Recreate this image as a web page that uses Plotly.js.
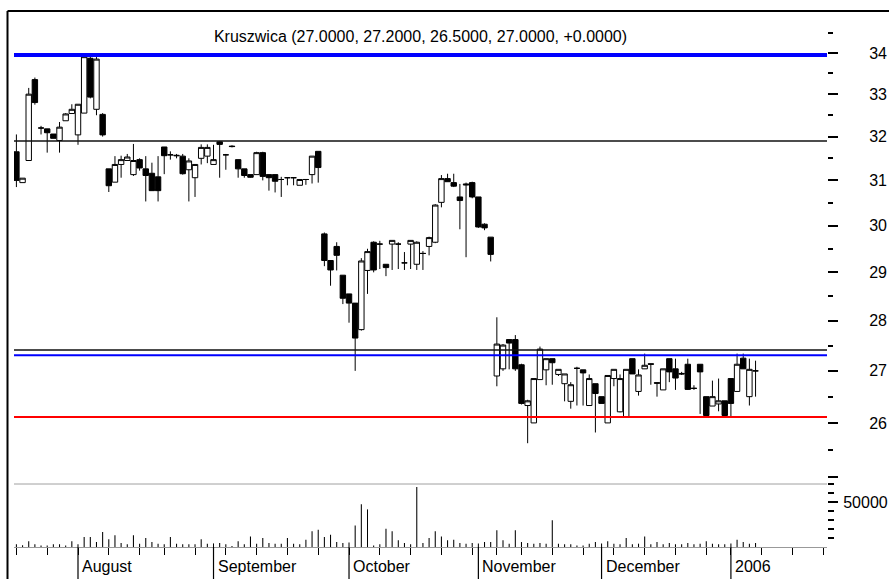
<!DOCTYPE html>
<html>
<head>
<meta charset="utf-8">
<script src="https://cdn.plot.ly/plotly-3.0.1.min.js"></script>
<style>html,body{margin:0;padding:0;background:#fff;}#chart{width:889px;height:579px;}</style>
</head>
<body>
<div id="chart"></div>
<script>
// Trading-day index 0 = 18 Jul 2005 ... 120 = 6 Jan 2006
const openP  = [31.65,30.95,31.45,33.35,32.2,32.18,32.06,31.91,32.37,32.54,32.04,32.55,33.87,32.64,32.52,
  31.26,30.96,31.36,31.45,31.13,31.47,31.26,31.16,31.08,31.76,31.58,31.57,31.55,31.24,31.06,
  31.5,31.55,31.36,31.88,31.58,31.78,31.47,31.26,31.13,31.13,31.63,31.13,31.13,31.02,31.06,
  31.06,30.89,31.02,31.13,31.66,29.82,29.25,29.55,28.94,28.55,28.36,27.82,29.04,29.64,29.6,
  29.17,29.6,29.6,29.2,29.6,29.17,29.4,29.55,29.64,30.51,31.04,30.95,30.63,30.92,30.95,
  30.63,30.03,29.75,26.9,27.04,27.62,27.62,27.12,26.33,26.0,26.83,27.02,27.24,26.93,26.75,
  26.41,27.05,27.02,26.33,26.75,26.5,26.0,26.85,26.21,26.11,27.24,26.6,27.04,27.14,26.77,
  26.63,27.24,27.04,26.95,27.13,26.66,27.13,26.5,26.32,26.36,26.42,26.85,26.6,27.25,26.5,27.0];
const highP  = [32.05,31.05,33.15,33.4,32.25,32.18,32.06,32.34,32.55,32.76,32.76,33.95,33.95,33.9,32.55,
  31.26,31.55,31.56,31.6,31.83,31.5,31.55,31.4,31.55,31.76,31.66,31.6,31.6,31.5,31.36,
  31.82,31.82,31.81,31.9,31.6,31.8,31.47,31.26,31.13,31.65,31.65,31.13,31.13,31.08,31.06,
  31.06,31.02,31.02,31.55,31.66,29.85,29.25,29.64,28.94,28.55,28.36,29.3,29.5,29.66,29.67,
  29.17,29.68,29.64,29.43,29.68,29.66,29.45,29.76,30.47,31.12,31.15,31.15,30.92,30.95,30.97,
  30.63,30.05,29.75,28.07,27.53,27.63,27.71,27.14,26.44,26.85,27.48,27.24,27.24,27.03,26.94,
  26.78,27.08,27.02,26.93,26.75,26.5,26.91,27.03,26.93,27.03,27.24,27.03,27.34,27.14,26.77,
  27.04,27.24,27.24,26.98,27.24,26.72,27.13,26.5,26.81,26.85,26.42,26.85,27.34,27.34,27.24,27.2];
const lowP   = [30.85,30.95,31.45,32.75,32.05,31.63,31.96,31.63,32.37,32.54,31.81,32.55,32.9,32.5,32.0,
  30.74,30.96,31.06,31.45,31.1,31.22,30.53,30.77,30.53,31.14,31.47,31.5,31.13,30.53,30.63,
  31.36,31.39,31.36,31.06,31.24,31.75,31.06,31.06,31.06,31.13,31.0,30.77,30.73,30.63,30.89,
  30.89,30.89,30.9,30.93,30.95,29.13,28.72,29.04,28.34,27.96,27.0,27.8,28.55,29.0,29.07,
  28.92,29.05,29.07,29.05,29.07,29.05,29.05,29.36,29.62,30.4,30.97,30.85,29.92,29.32,30.6,
  29.95,29.9,29.23,26.7,27.0,27.03,27.0,26.35,25.62,26.0,26.83,26.72,26.73,26.9,26.41,
  26.27,26.33,26.33,26.33,25.82,26.37,26.0,26.7,26.2,26.1,26.94,26.52,27.04,26.73,26.5,
  26.63,26.78,26.63,26.92,26.63,26.63,26.17,26.12,26.32,26.22,26.12,26.12,26.6,27.04,26.33,26.5];
const closeP = [31.0,31.05,33.0,32.8,32.2,32.09,31.96,32.22,32.53,32.64,32.76,33.91,32.93,33.85,32.04,
  30.88,31.36,31.47,31.53,31.45,31.28,31.11,30.77,30.77,31.56,31.58,31.56,31.15,31.44,31.36,
  31.75,31.75,31.47,31.82,31.58,31.77,31.26,31.11,31.07,31.63,31.09,31.06,30.98,31.02,31.06,
  31.06,31.02,31.02,31.55,31.29,29.25,29.05,29.36,28.46,28.36,27.65,29.24,29.44,29.05,29.6,
  29.1,29.68,29.6,29.2,29.68,29.64,29.4,29.74,30.45,31.04,30.97,30.87,30.55,30.9,30.63,
  29.97,29.95,29.38,27.53,27.51,27.55,27.04,26.37,26.42,26.85,27.43,27.24,27.16,27.03,26.94,
  26.73,27.05,26.96,26.85,26.56,26.37,26.91,27.03,26.85,27.03,26.94,26.92,27.11,27.13,26.76,
  27.04,26.98,26.86,26.94,26.64,26.66,26.98,26.14,26.5,26.42,26.14,26.37,27.13,27.04,27.03,27.0];
const volume = [3000,1850,6300,3000,1800,1800,3000,3000,1800,6300,3000,11100,11100,5500,16600,
  8500,13000,4400,3000,13000,3700,10000,5500,3700,3000,11100,3700,3000,3000,3000,
  8500,3700,4000,4400,3000,1000,6300,3000,11800,3700,10000,4400,3700,3700,10000,
  3700,3000,8100,17400,19200,11100,13700,5500,4400,5000,24000,47400,41800,1800,3000,
  20400,17400,7400,4400,3000,66600,4400,10000,17400,11800,7400,8100,4400,3700,4400,
  4000,5500,5500,18500,7400,3700,18500,5500,4400,3700,4400,3700,29600,3700,3000,
  3000,1800,1800,3700,5500,4000,6300,3700,3000,10000,3000,3700,11800,3000,5500,
  3000,4400,3000,3000,4400,3000,3700,6300,3700,3000,3000,4000,8100,5500,3700,4400];

const weekIdx = [0,5,10,15,20,24,29,34,39,44,49,54,59,64,69,74,78,82,87,92,97,102,107,112,116,121,126,131];
const monthIdx = [10,32,54,75,95,116];
const monthLabels = ['August','September','October','November','December','2006'];
const priceTicks = [25,26,27,28,29,30,31,32,33,34];
const priceLabels = ['','26','27','28','29','30','31','32','33','34'];
const priceMinor = [25.5,26.5,27.5,28.5,29.5,30.5,31.5,32.5,33.5,34.5];
const volTicks = [50000];
const volLabels = ['50000'];
const volMinor = [10000,20000,30000,40000,60000,70000];
const levelLines = [
  {p:33.95, color:'#0000ff', w:4},
  {p:31.9, color:'#111111', w:1.5},
  {p:27.41, color:'#111111', w:1.5},
  {p:27.31, color:'#0000ff', w:2},
  {p:26.11, color:'#ff0000', w:2}
];
const titleText = 'Kruszwica (27.0000, 27.2000, 26.5000, 27.0000, +0.0000)';

const xIdx = closeP.map((_, i) => i);
const FONT = 'Liberation Sans, Arial, sans-serif';

const candle = {
  type: 'candlestick', x: xIdx, open: openP, high: highP, low: lowP, close: closeP,
  xaxis: 'x', yaxis: 'y', whiskerwidth: 0,
  increasing: {line: {color: '#000', width: 1}, fillcolor: '#fff'},
  decreasing: {line: {color: '#000', width: 1}, fillcolor: '#000'},
  hoverinfo: 'skip', showlegend: false
};
const vol = {
  type: 'bar', x: xIdx, y: volume, xaxis: 'x', yaxis: 'y2', width: 0.17,
  marker: {color: '#000', line: {width: 0}}, hoverinfo: 'skip', showlegend: false
};

const plotW = 889 - 14 - 62, plotH = 579 - 11 - 32;
const shapes = [];
levelLines.forEach(l => shapes.push({type:'line', xref:'paper', yref:'y', x0:0, x1:1, y0:l.p, y1:l.p, line:{color:l.color, width:l.w}}));
shapes.push({type:'line', xref:'paper', yref:'paper', x0:0, x1:1, y0:63/plotH, y1:63/plotH, line:{color:'#a0a0a0', width:1}});
monthIdx.forEach(m => shapes.push({type:'line', xref:'x', yref:'paper', x0:m, x1:m, y0:0, y1:-32/plotH, line:{color:'#000', width:1.2}}));
// frame
shapes.push({type:'line', xref:'paper', yref:'paper', x0:-6.5/plotW, x1:(889-14)/plotW, y0:1, y1:1, line:{color:'#000', width:2}});
shapes.push({type:'line', xref:'paper', yref:'paper', x0:-6.5/plotW, x1:-6.5/plotW, y0:1, y1:-40/plotH, line:{color:'#000', width:2}});

const annotations = monthIdx.map((m, k) => ({
  x: m, xref: 'x', y: -19/plotH, yref: 'paper', text: monthLabels[k], showarrow: false,
  xanchor: 'left', yanchor: 'middle', xshift: 2, font: {family: FONT, size: 16, color: '#000'}
}));

const layout = {
  width: 889, height: 579,
  margin: {l: 14, r: 62, t: 11, b: 32},
  paper_bgcolor: '#fff', plot_bgcolor: '#fff',
  showlegend: false, dragmode: false,
  boxgap: 0.12, boxgroupgap: 0,
  title: {text: titleText, font: {family: FONT, size: 16, color: '#000'}, x: 0.5, xref: 'paper', xanchor: 'center', y: 1 - 36/579, yref: 'container', yanchor: 'middle'},
  xaxis: {range: [-0.39, 131.6], showgrid: false, zeroline: false, showline: true, linecolor: '#999', linewidth: 1,
    tickmode: 'array', tickvals: weekIdx, ticks: 'outside', ticklen: 7, tickwidth: 1, tickcolor: '#000',
    showticklabels: false, rangeslider: {visible: false}, fixedrange: true},
  yaxis: {type: 'log', range: [1.37589, 1.54471], side: 'right', showgrid: false, zeroline: false, showline: false,
    tickmode: 'array', tickvals: priceTicks, ticktext: priceLabels, ticks: 'outside', ticklen: 10, tickwidth: 2, tickcolor: '#000',
    minor: {tickmode: 'array', tickvals: priceMinor, ticks: 'outside', ticklen: 5, tickwidth: 2, tickcolor: '#000', showgrid: false},
    ticklabelstandoff: 28, tickfont: {family: FONT, size: 16, color: '#000'}, fixedrange: true},
  yaxis2: {overlaying: 'y', side: 'right', range: [0, 595556], showgrid: false, zeroline: false, showline: false,
    tickmode: 'array', tickvals: volTicks, ticktext: volLabels, ticks: 'outside', ticklen: 10, tickwidth: 2, tickcolor: '#000',
    minor: {tickmode: 'array', tickvals: volMinor, ticks: 'outside', ticklen: 6, tickwidth: 2, tickcolor: '#000', showgrid: false},
    ticklabelstandoff: 2, tickfont: {family: FONT, size: 16, color: '#000'}, fixedrange: true},
  shapes: shapes,
  annotations: annotations
};

Plotly.newPlot('chart', [vol, candle], layout, {staticPlot: true, displayModeBar: false});
</script>
</body>
</html>
